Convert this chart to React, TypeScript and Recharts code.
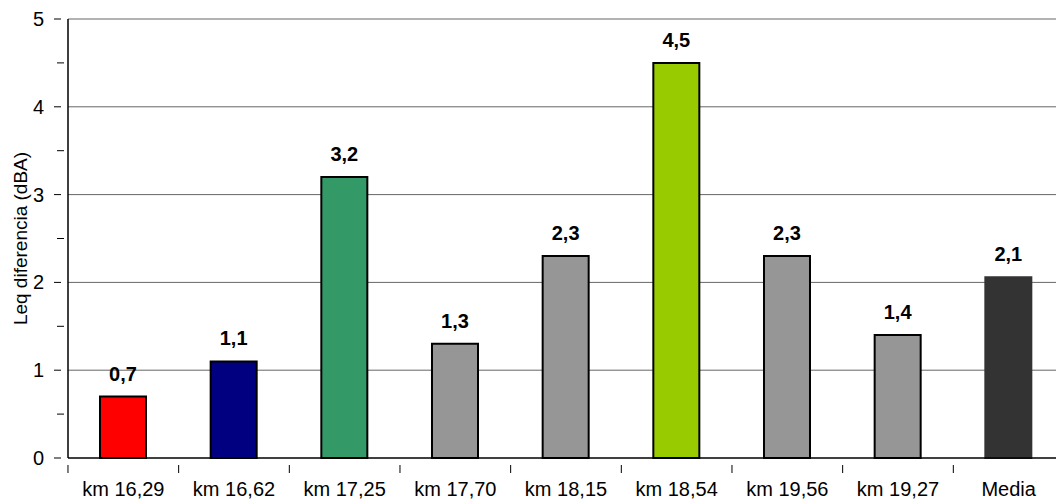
import { BarChart, Bar, XAxis, YAxis, CartesianGrid, Cell, LabelList } from 'recharts';

const categories = ['km 16,29', 'km 16,62', 'km 17,25', 'km 17,70', 'km 18,15', 'km 18,54', 'km 19,56', 'km 19,27', 'Media'];
const leqDiff = [0.7, 1.1, 3.2, 1.3, 2.3, 4.5, 2.3, 1.4, 2.06];
const yTicks = [0, 0.5, 1, 1.5, 2, 2.5, 3, 3.5, 4, 4.5, 5];

const barColors = ['#FF0000', '#000080', '#339966', '#969696', '#969696', '#99CC00', '#969696', '#969696', '#333333'];

const data = categories.map((name, i) => ({ name, value: leqDiff[i] }));

const FONT = '"Liberation Sans", Arial, sans-serif';
const BAND = 110.7;

const YTick = ({ x, y, payload }: any) => {
  const v = payload.value as number;
  const major = Number.isInteger(v);
  return (
    <g>
      {major ? (
        <>
          <line x1={x - 6} x2={x + 1} y1={y} y2={y} stroke="#000" strokeWidth={1} />
          <text x={x - 16} y={y} dy={7} textAnchor="end" fontSize={20} fontFamily={FONT} fill="#000">
            {v}
          </text>
        </>
      ) : (
        <line x1={x - 3} x2={x + 4} y1={y} y2={y} stroke="#000" strokeWidth={1} />
      )}
    </g>
  );
};

const XTick = ({ x, y, payload }: any) => (
  <g>
    <line x1={x - BAND / 2} x2={x - BAND / 2} y1={y - 1} y2={y + 7} stroke="#000" strokeWidth={1} />
    <text x={x} y={y + 30} textAnchor="middle" fontSize={20} fontFamily={FONT} fill="#000">
      {payload.value}
    </text>
  </g>
);

export default function App() {
  return (
    <div style={{ position: 'absolute', left: 0, top: 0, width: 1056, height: 499, overflow: 'hidden', background: '#fff' }}>
      <BarChart width={1070} height={499} data={data} margin={{ top: 19, right: 6, left: 0, bottom: 0 }}>
        <CartesianGrid vertical={false} horizontalValues={[1, 2, 3, 4, 5]} stroke="#666" strokeWidth={1} />
        <XAxis
          dataKey="name"
          height={41}
          axisLine={{ stroke: '#000', strokeWidth: 1.5 }}
          tickLine={false}
          tick={<XTick />}
          interval={0}
        />
        <YAxis
          width={68}
          domain={[0, 5]}
          ticks={yTicks}
          interval={0}
          axisLine={{ stroke: '#000', strokeWidth: 1.5 }}
          tickLine={false}
          tick={<YTick />}
          label={{
            value: 'Leq diferencia (dBA)',
            angle: -90,
            position: 'insideLeft',
            offset: 20,
            style: { textAnchor: 'middle', fontSize: 19, fontFamily: FONT, fill: '#000' },
          }}
        />
        <Bar dataKey="value" barSize={46} isAnimationActive={false}>
          {data.map((d, i) => (
            <Cell
              key={d.name}
              fill={barColors[i]}
              stroke={d.name === 'Media' ? barColors[i] : '#000'}
              strokeWidth={2}
            />
          ))}
          <LabelList
            dataKey="value"
            position="top"
            offset={16}
            formatter={(v: any) => Number(v).toFixed(1).replace('.', ',')}
            style={{ fontSize: 20, fontWeight: 'bold', fontFamily: FONT, fill: '#000' }}
          />
        </Bar>
      </BarChart>
    </div>
  );
}
